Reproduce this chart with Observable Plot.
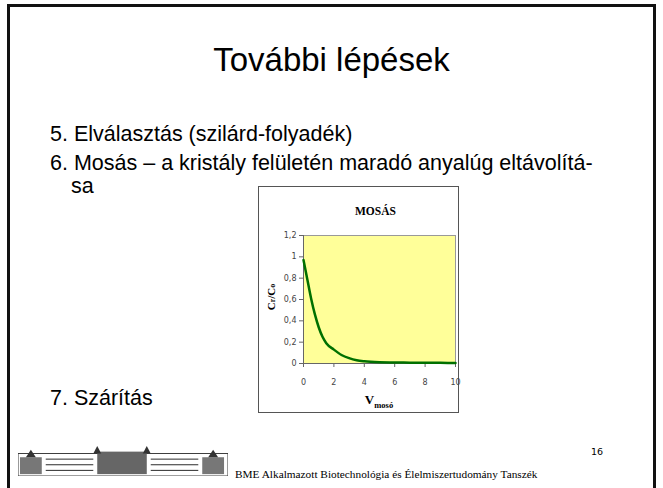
<!DOCTYPE html>
<html>
<head>
<meta charset="utf-8">
<script src="https://cdn.jsdelivr.net/npm/d3@7"></script>
<script src="https://cdn.jsdelivr.net/npm/@observablehq/plot@0.6"></script>
<style>
  html, body { margin: 0; padding: 0; background: #fff; }
  #slide { position: relative; width: 663px; height: 488px; overflow: hidden; background: #fff; }
  #frame { position: absolute; left: 7px; top: 4px; width: 643px; height: 500px; border: 3px solid #111; border-bottom: none; }
  .t { position: absolute; font-family: "Liberation Sans", Arial, sans-serif; color: #000; white-space: nowrap; }
  #title { left: 0; width: 663px; text-align: center; top: 41px; font-size: 33px; }
  .b { font-size: 21.5px; left: 50px; }
  #box { position: absolute; left: 258px; top: 186px; width: 199px; height: 225px; border: 1px solid #555; background: #fff; }
  #ctitle { position: absolute; left: 116px; width: 40px; margin-left: -20px; top: 18px; text-align: center; font-family: "Liberation Serif", "Times New Roman", serif; font-weight: bold; font-size: 11.5px; }
  #chart { position: absolute; left: 0; top: 36px; }
  #xlab { position: absolute; left: 120px; width: 80px; margin-left: -40px; top: 205px; text-align: center; font-family: "Liberation Serif", serif; font-weight: bold; font-size: 13px; }
  #xlab sub { font-size: 8.5px; }
  #ylab { position: absolute; left: -1px; top: 104px; transform: rotate(-90deg); font-family: "Liberation Serif", serif; font-size: 11px; font-weight: bold; }
  #footer { position: absolute; left: 235px; top: 468px; font-family: "Liberation Serif", "Times New Roman", serif; font-size: 11.3px; color: #000; }
  #page { position: absolute; left: 591px; top: 446px; font-family: "DejaVu Sans", sans-serif; font-size: 9.5px; }
  #logo { position: absolute; left: 18px; top: 446px; }
</style>
</head>
<body>
<div id="slide">
  <div id="frame"></div>
  <div class="t" id="title">További lépések</div>
  <div class="t b" style="top:122px">5. Elválasztás (szilárd-folyadék)</div>
  <div class="t b" style="top:151px">6. Mosás – a kristály felületén maradó anyalúg eltávolítá-</div>
  <div class="t b" style="top:174px; left:71px">sa</div>
  <div class="t b" style="top:386px">7. Szárítás</div>
  <div id="box">
    <div id="ctitle">MOSÁS</div>
    <div id="chart"></div>
    <div id="ylab">C<span style="font-size:8px">r</span>/C<span style="font-size:8px">o</span></div>
    <div id="xlab">V<sub>mosó</sub></div>
  </div>
  <svg id="logo" width="210" height="30" viewBox="0 0 212 32" preserveAspectRatio="none">
    <rect x="0" y="8" width="212" height="24" fill="#fff" stroke="#333" stroke-width="1"/>
    <rect x="2" y="12" width="22" height="18" fill="#777"/>
    <rect x="186" y="12" width="22" height="18" fill="#777"/>
    <rect x="80" y="6" width="50" height="24" fill="#666"/>
    <polygon points="8,12 13,4 18,12" fill="#333"/>
    <polygon points="192,12 197,4 202,12" fill="#333"/>
    <polygon points="76,8 80,0 84,8" fill="#333"/>
    <polygon points="126,8 130,0 134,8" fill="#333"/>
    <g stroke="#222" stroke-width="1">
      <line x1="28" y1="14" x2="76" y2="14"/><line x1="28" y1="20" x2="76" y2="20"/><line x1="28" y1="26" x2="76" y2="26"/>
      <line x1="134" y1="14" x2="182" y2="14"/><line x1="134" y1="20" x2="182" y2="20"/><line x1="134" y1="26" x2="182" y2="26"/>
    </g>
  </svg>
  <div id="footer">BME Alkalmazott Biotechnológia és Élelmiszertudomány Tanszék</div>
  <div id="page">16</div>
</div>
<script>
const vMoso = [0, 0.25, 0.5, 0.75, 1, 1.25, 1.5, 2, 2.5, 3, 3.5, 4, 5, 6, 7, 8, 9, 10];
const crPerCo = [0.97, 0.79, 0.61, 0.46, 0.34, 0.25, 0.19, 0.13, 0.08, 0.05, 0.03, 0.02, 0.012, 0.01, 0.008, 0.007, 0.006, 0.005];
const xTicks = [0, 2, 4, 6, 8, 10];
const yTicks = [0, 0.2, 0.4, 0.6, 0.8, 1, 1.2];

const data = vMoso.map((v, i) => ({v, c: crPerCo[i]}));
const comma = d => String(d).replace(".", ",");

const chart = Plot.plot({
  width: 199,
  height: 165,
  marginLeft: 44,
  marginTop: 12,
  marginRight: 3,
  marginBottom: 25,
  style: {fontFamily: "'DejaVu Sans', sans-serif", fontSize: "8px", color: "#444", background: "transparent", overflow: "visible"},
  x: {domain: [0, 10], ticks: xTicks},
  y: {domain: [0, 1.2], ticks: yTicks},
  marks: [
    Plot.frame({fill: "#ffff99", stroke: "#999"}),
    Plot.axisX({ticks: xTicks, tickSize: 4, tickPadding: 12, label: null, tickFormat: comma, stroke: "#666"}),
    Plot.axisY({ticks: yTicks, tickSize: 4, tickPadding: 3, label: null, tickFormat: comma, stroke: "#666"}),
    Plot.ruleX([0], {stroke: "#666"}),
    Plot.ruleY([0], {stroke: "#666"}),
    Plot.line(data, {x: "v", y: "c", stroke: "#007000", strokeWidth: 2.5, curve: "monotone-x"})
  ]
});
document.getElementById("chart").appendChild(chart);
</script>
</body>
</html>
